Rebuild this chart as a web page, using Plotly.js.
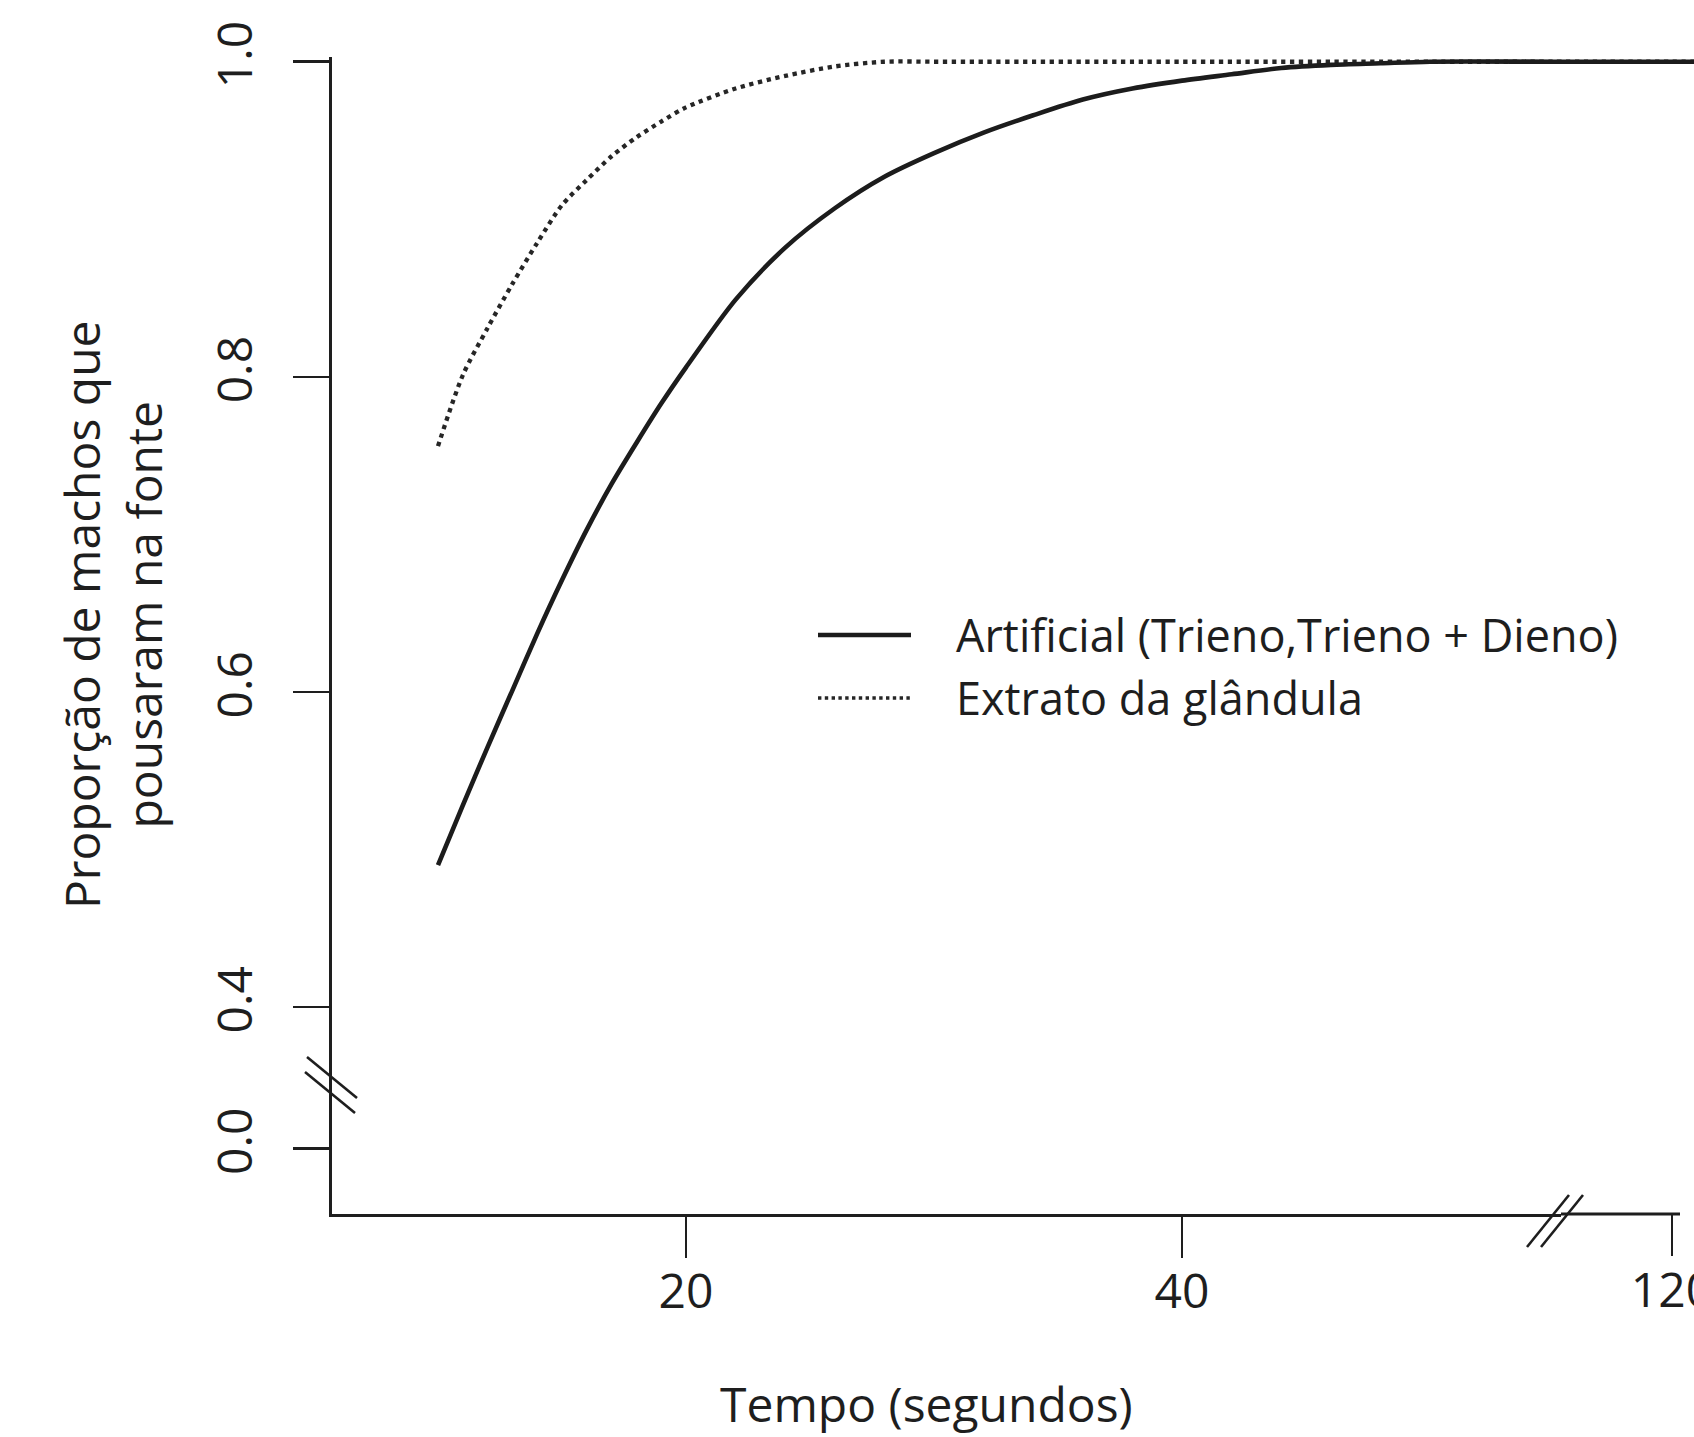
<!DOCTYPE html>
<html>
<head>
<meta charset="utf-8">
<script src="https://cdn.plot.ly/plotly-3.0.1.min.js"></script>
<style>
  html, body { margin: 0; padding: 0; background: #ffffff; }
  #chart { width: 1694px; height: 1437px; }
</style>
</head>
<body>
<div id="chart"></div>
<script>
// ---- Data ----
const tempo = [10, 11, 12, 13, 14, 15, 16, 17, 18, 19, 20, 22, 24, 26, 28, 30, 32, 34, 36, 38, 40, 42, 44, 46, 48, 50, 55, 60];
const artificial = [0.490, 0.528, 0.565, 0.601, 0.637, 0.671, 0.703, 0.732, 0.758, 0.783, 0.806, 0.849, 0.882, 0.907, 0.927, 0.942, 0.955, 0.966, 0.976, 0.983, 0.988, 0.992, 0.996, 0.998, 0.999, 1.0, 1.0, 1.0];
const extrato = [0.756, 0.801, 0.831, 0.859, 0.885, 0.909, 0.925, 0.940, 0.952, 0.962, 0.971, 0.983, 0.991, 0.997, 1.0, 1.0, 1.0, 1.0, 1.0, 1.0, 1.0, 1.0, 1.0, 1.0, 1.0, 1.0, 1.0, 1.0];
// values after the axis break
const tempoFim = [115, 120, 125];
const artificialFim = [1.0, 1.0, 1.0];
const extratoFim = [1.0, 1.0, 1.0];

const xTicks = [20, 40];
const xTicksFim = [120];
const yTicks = [0.4, 0.6, 0.8, 1.0];
const yTicksBase = [0.0];

const serieNomes = ["Artificial (Trieno,Trieno + Dieno)", "Extrato da glândula"];
const tituloX = "Tempo (segundos)";
const tituloY = "Proporção de machos que<br>pousaram na fonte";

// ---- Styling / geometry ----
const W = 1694, H = 1437;
const px = v => v / W;          // pixel -> paper x
const py = v => 1 - v / H;      // pixel -> paper y
const FONT = "Open Sans, Lato, sans-serif";
const INK = "#1e1e1e";
const fontTick = { family: FONT, size: 48, color: INK };

const solid = { color: "#1c1c1c", width: 4.6, shape: "spline", smoothing: 0.8 };
const dotted = { color: "#262626", width: 4.3, dash: "4.3px,4.6px", shape: "spline", smoothing: 0.8 };

const traces = [
  // helper so that the lower (0.0) y axis segment exists
  { x: [tempo[0]], y: [yTicksBase[0]], xaxis: "x", yaxis: "y2", mode: "lines", line: { width: 0 }, hoverinfo: "skip", showlegend: false },
  { x: tempo, y: extrato, xaxis: "x", yaxis: "y", mode: "lines", line: dotted, name: serieNomes[1], hoverinfo: "skip" },
  { x: tempo, y: artificial, xaxis: "x", yaxis: "y", mode: "lines", line: solid, name: serieNomes[0], hoverinfo: "skip" },
  { x: tempoFim, y: extratoFim, xaxis: "x2", yaxis: "y", mode: "lines", line: dotted, name: serieNomes[1], hoverinfo: "skip" },
  { x: tempoFim, y: artificialFim, xaxis: "x2", yaxis: "y", mode: "lines", line: solid, name: serieNomes[0], hoverinfo: "skip" }
];

const axisCommon = {
  showgrid: false, zeroline: false, fixedrange: true,
  ticks: "outside", tickcolor: INK, tickwidth: 2.6,
  linecolor: INK, linewidth: 2.8,
  tickfont: fontTick
};

const xBreak = 1561, yBreak = 1085;

const layout = {
  width: W, height: H,
  margin: { l: 0, r: 0, t: 0, b: 0, pad: 0 },
  paper_bgcolor: "#ffffff", plot_bgcolor: "#ffffff",
  showlegend: false,
  xaxis: Object.assign({}, axisCommon, {
    domain: [px(332), px(xBreak)], range: [5.726, 55.28], anchor: "y2",
    showline: true, tickvals: xTicks, ticklen: 41, ticklabelstandoff: -7
  }),
  xaxis2: Object.assign({}, axisCommon, {
    domain: [px(xBreak), 1], range: [115.52, 120.89], anchor: "y2",
    showline: false, tickvals: xTicksFim, ticklen: 41, ticklabelstandoff: -7,
    ticklabeloverflow: "allow"
  }),
  yaxis: Object.assign({}, axisCommon, {
    domain: [py(yBreak), py(57)], range: [0.3505, 1.003], anchor: "x",
    showline: true, tickvals: yTicks, tickformat: ".1f", tickangle: -90, ticklen: 36, ticklabelstandoff: 22
  }),
  yaxis2: Object.assign({}, axisCommon, {
    domain: [py(1214), py(yBreak)], range: [-0.04157, 0.0403], anchor: "x",
    showline: true, tickvals: yTicksBase, tickformat: ".1f", tickangle: -90, ticklen: 36, ticklabelstandoff: 22
  }),
  shapes: [
    // x axis line continuing after the break
    { type: "line", xref: "paper", yref: "paper", x0: px(xBreak), x1: px(1680), y0: py(1214), y1: py(1214), line: { color: INK, width: 2.8 } },
    // y-axis break marks
    { type: "line", xref: "paper", yref: "paper", x0: px(307), y0: py(1057), x1: px(357), y1: py(1098), line: { color: INK, width: 2.6 } },
    { type: "line", xref: "paper", yref: "paper", x0: px(305), y0: py(1072), x1: px(355), y1: py(1113), line: { color: INK, width: 2.6 } },
    // x-axis break marks
    { type: "line", xref: "paper", yref: "paper", x0: px(1527), y0: py(1247), x1: px(1569), y1: py(1195), line: { color: INK, width: 2.6 } },
    { type: "line", xref: "paper", yref: "paper", x0: px(1541), y0: py(1247), x1: px(1583), y1: py(1195), line: { color: INK, width: 2.6 } },
    // legend samples
    { type: "line", xref: "paper", yref: "paper", x0: px(818), x1: px(911), y0: py(635), y1: py(635), line: { color: "#1c1c1c", width: 4.6 } },
    { type: "line", xref: "paper", yref: "paper", x0: px(818), x1: px(911), y0: py(698), y1: py(698), line: { color: "#262626", width: 3.4, dash: "3.4px,3.4px" } }
  ],
  annotations: [
    { text: serieNomes[0], xref: "paper", yref: "paper", x: px(954), y: py(634), xanchor: "left", yanchor: "middle", showarrow: false, font: { family: FONT, size: 45, color: INK } },
    { text: serieNomes[1], xref: "paper", yref: "paper", x: px(954), y: py(697), xanchor: "left", yanchor: "middle", showarrow: false, font: { family: FONT, size: 45, color: INK } },
    { text: tituloX, xref: "paper", yref: "paper", x: px(926), y: py(1403), xanchor: "center", yanchor: "middle", showarrow: false, font: { family: FONT, size: 48, color: INK } },
    { text: tituloY, xref: "paper", yref: "paper", x: px(112), y: py(615), xanchor: "center", yanchor: "middle", textangle: -90, showarrow: false, font: { family: FONT, size: 48, color: INK } }
  ]
};

Plotly.newPlot("chart", traces, layout, { displayModeBar: false, staticPlot: true, responsive: false });
</script>
</body>
</html>
